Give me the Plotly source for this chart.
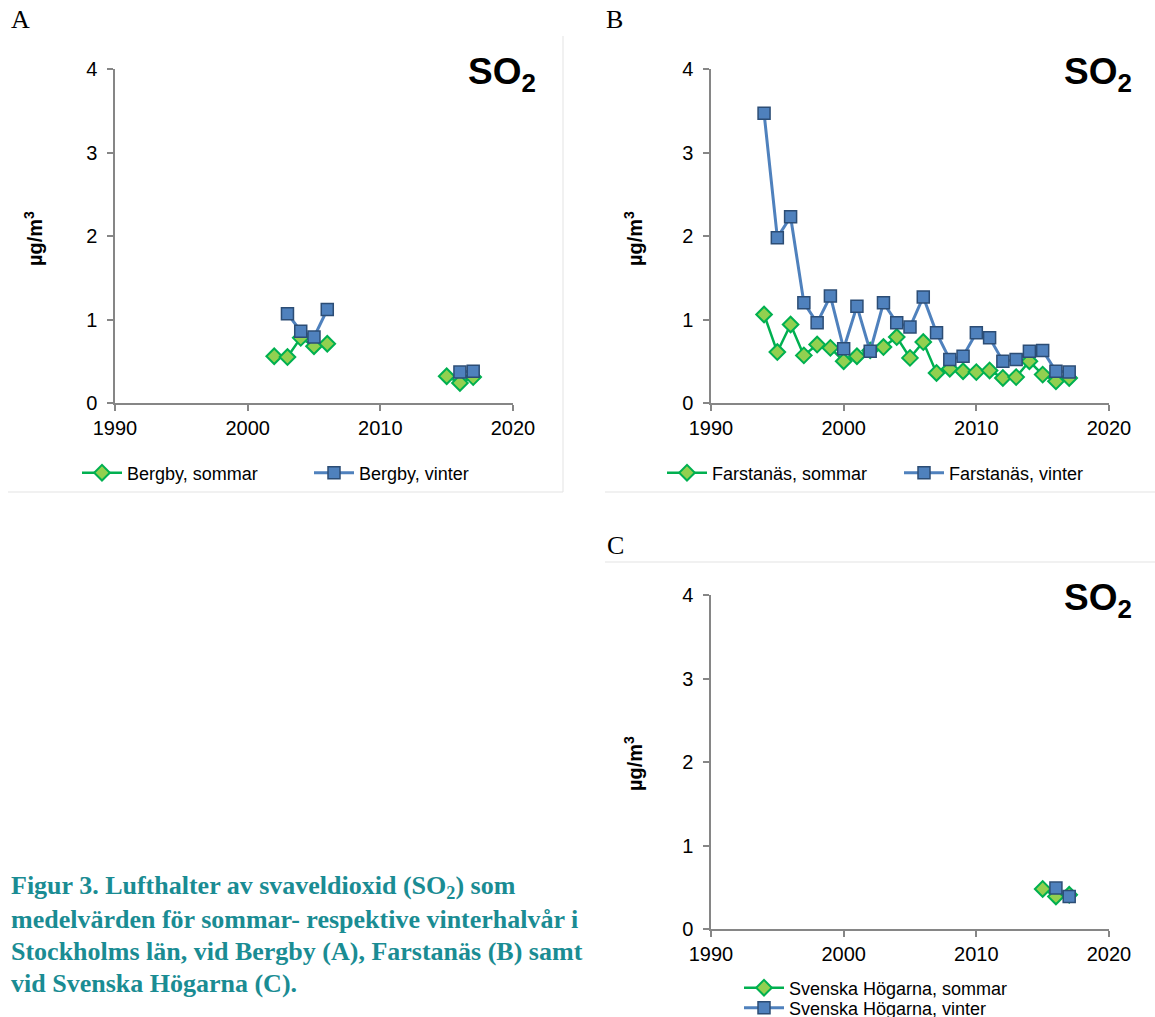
import plotly.graph_objects as go

W, H = 1155, 1017

# ---------------- data ----------------
bergby_years = list(range(2002, 2018))
bergby_sommar = [0.56, 0.55, 0.78, 0.68, 0.71, None, None, None, None, None, None, None, None, 0.32, 0.24, 0.31]
bergby_vinter = [None, 1.07, 0.86, 0.79, 1.12, None, None, None, None, None, None, None, None, None, 0.37, 0.38]

farstanas_years = list(range(1994, 2018))
farstanas_sommar = [1.06, 0.61, 0.94, 0.57, 0.70, 0.66, 0.50, 0.56, 0.63, 0.67, 0.79, 0.54,
                    0.73, 0.36, 0.41, 0.38, 0.37, 0.39, 0.30, 0.31, 0.50, 0.34, 0.26, 0.30]
farstanas_vinter = [3.47, 1.98, 2.23, 1.20, 0.96, 1.28, 0.65, 1.16, 0.62, 1.20, 0.96, 0.91,
                    1.27, 0.84, 0.52, 0.56, 0.84, 0.78, 0.50, 0.52, 0.62, 0.63, 0.38, 0.37]

hogarna_years = [2015, 2016, 2017]
hogarna_sommar = [0.48, 0.39, 0.41]
hogarna_vinter = [None, 0.49, 0.39]

x_ticks = [1990, 2000, 2010, 2020]
y_ticks = [0, 1, 2, 3, 4]
panel_letters = ["A", "B", "C"]
caption_lines = [
    "Figur 3. Lufthalter av svaveldioxid (SO<sub>2</sub>) som",
    "medelvärden för sommar- respektive vinterhalvår i",
    "Stockholms län, vid Bergby (A), Farstanäs (B) samt",
    "vid Svenska Högarna (C).",
]

# ---------------- styles ----------------
GREEN_LINE = "#00B050"
GREEN_FILL = "#92D050"
BLUE_LINE = "#4F81BD"
BLUE_EDGE = "#2C4D75"
AXIS = "#868686"
SANS = "Liberation Sans, Arial, sans-serif"
SERIF = "Liberation Serif, Times New Roman, serif"
TEAL = "#1A8C93"


def px_x(p):
    return p / W


def px_y(p):
    return 1 - p / H


fig = go.Figure()

panels = [
    ("", "legend", "legend", bergby_years, bergby_sommar, bergby_vinter, "Bergby"),
    ("2", "legend2", "legend2", farstanas_years, farstanas_sommar, farstanas_vinter, "Farstanäs"),
    ("3", "legend3", "legend4", hogarna_years, hogarna_sommar, hogarna_vinter, "Svenska Högarna"),
]

for suf, leg_s, leg_v, yrs, som, vin, name in panels:
    fig.add_trace(go.Scatter(
        x=yrs, y=som, mode="lines+markers", name=f"{name}, sommar",
        xaxis="x" + suf, yaxis="y" + suf, legend=leg_s, connectgaps=False,
        line=dict(color=GREEN_LINE, width=2.5),
        marker=dict(symbol="diamond", size=12, color=GREEN_FILL,
                    line=dict(color=GREEN_LINE, width=2)),
    ))
    fig.add_trace(go.Scatter(
        x=yrs, y=vin, mode="lines+markers", name=f"{name}, vinter",
        xaxis="x" + suf, yaxis="y" + suf, legend=leg_v, connectgaps=False,
        line=dict(color=BLUE_LINE, width=3),
        marker=dict(symbol="square", size=12, color=BLUE_LINE,
                    line=dict(color=BLUE_EDGE, width=1.5)),
    ))

xdomA = [px_x(115), px_x(513)]
xdomB = [px_x(711), px_x(1109)]
ydomTop = [px_y(403), px_y(69)]
ydomC = [px_y(929), px_y(595)]


def xax(dom, anchor):
    return dict(domain=dom, anchor=anchor, range=[1990, 2020], tickvals=x_ticks,
                showgrid=False, zeroline=False, showline=True, linecolor=AXIS,
                linewidth=1.5, ticks="outside", ticklen=6, tickcolor=AXIS, tickwidth=1.5,
                tickfont=dict(family=SANS, size=20, color="#000"), automargin=False)


def yax(dom, anchor):
    return dict(domain=dom, anchor=anchor, range=[0, 4], tickvals=y_ticks,
                showgrid=False, zeroline=False, showline=True, linecolor=AXIS,
                linewidth=1.5, ticks="outside", ticklen=6, tickcolor=AXIS, tickwidth=1.5,
                tickfont=dict(family=SANS, size=20, color="#000"), ticklabelstandoff=6,
                automargin=False)


leg_common = dict(bgcolor="rgba(0,0,0,0)", font=dict(family=SANS, size=18, color="#000"),
                  itemwidth=40, itemclick=False)

fig.update_layout(
    width=W, height=H, margin=dict(l=0, r=0, t=0, b=0, autoexpand=False),
    paper_bgcolor="white", plot_bgcolor="white",
    xaxis=xax(xdomA, "y"), yaxis=yax(ydomTop, "x"),
    xaxis2=xax(xdomB, "y2"), yaxis2=yax(ydomTop, "x2"),
    xaxis3=xax(xdomB, "y3"), yaxis3=yax(ydomC, "x3"),
    legend=dict(orientation="h", x=px_x(77), xanchor="left", y=px_y(473), yanchor="middle",
                entrywidth=177, entrywidthmode="pixels", **leg_common),
    legend2=dict(orientation="h", x=px_x(662), xanchor="left", y=px_y(473), yanchor="middle",
                 entrywidth=182, entrywidthmode="pixels", **leg_common),
    legend3=dict(orientation="v", x=px_x(739), xanchor="left", y=px_y(988), yanchor="middle",
                 **leg_common),
    legend4=dict(orientation="v", x=px_x(739), xanchor="left", y=px_y(1008), yanchor="middle",
                 **leg_common),
    showlegend=True,
)

annotations = []
# SO2 labels
for xr, yc in [(538, 74), (1134, 74), (1134, 600)]:
    annotations.append(dict(text="<b>SO<sub>2</sub></b>", xref="paper", yref="paper",
                            x=px_x(xr), y=px_y(yc), xanchor="right", yanchor="middle",
                            showarrow=False, font=dict(family=SANS, size=37, color="#000")))
# y axis titles
for xc, yc in [(33, 239), (633, 239), (633, 764)]:
    annotations.append(dict(text="<b>µg/m<sup>3</sup></b>", xref="paper", yref="paper",
                            x=px_x(xc), y=px_y(yc), xanchor="center", yanchor="middle",
                            textangle=-90, showarrow=False,
                            font=dict(family=SANS, size=20, color="#000")))
# panel letters
for letter, (xl, yc) in zip(panel_letters, [(9, 20), (604, 20), (605, 545)]):
    annotations.append(dict(text=letter, xref="paper", yref="paper",
                            x=px_x(xl), y=px_y(yc), xanchor="left", yanchor="middle",
                            showarrow=False, font=dict(family=SERIF, size=26, color="#000")))
# caption
for i, line in enumerate(caption_lines):
    annotations.append(dict(text="<b>" + line + "</b>", xref="paper", yref="paper",
                            x=px_x(9), y=px_y(887 + 32 * i), xanchor="left", yanchor="middle",
                            showarrow=False, font=dict(family=SERIF, size=26, color=TEAL)))
fig.update_layout(annotations=annotations)

# light panel borders
BORDER = "#E3E3E3"
shapes = [
    dict(type="line", xref="paper", yref="paper", x0=px_x(563), x1=px_x(563), y0=px_y(36), y1=px_y(492),
         line=dict(color=BORDER, width=1)),
    dict(type="line", xref="paper", yref="paper", x0=px_x(8), x1=px_x(563), y0=px_y(492), y1=px_y(492),
         line=dict(color=BORDER, width=1)),
    dict(type="line", xref="paper", yref="paper", x0=px_x(605), x1=1, y0=px_y(492), y1=px_y(492),
         line=dict(color=BORDER, width=1)),
    dict(type="line", xref="paper", yref="paper", x0=px_x(605), x1=1, y0=px_y(562), y1=px_y(562),
         line=dict(color=BORDER, width=1)),
]
fig.update_layout(shapes=shapes)

fig.write_html("out.html")
